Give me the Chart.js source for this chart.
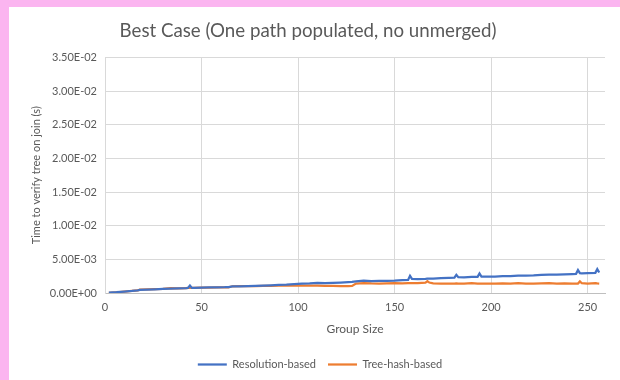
<!DOCTYPE html>
<html>
<head>
<meta charset="utf-8">
<script src="https://cdn.jsdelivr.net/npm/chart.js@4.4.1/dist/chart.umd.min.js"></script>
<style>
  html, body { margin: 0; padding: 0; }
  body { width: 620px; height: 380px; background: #fbb5f0; position: relative; overflow: hidden; }
  #panel { position: absolute; left: 9px; top: 7px; width: 611px; height: 373px; background: #fff; }
</style>
</head>
<body>
<div id="panel"><canvas id="chart1"></canvas></div>
<script>
var groupSizes = [
  2, 6, 10, 14, 17, 18, 22, 26, 30, 34,
  38, 42, 43, 44, 45, 46, 50, 54, 58, 62,
  64, 66, 70, 74, 78, 82, 86, 90, 94, 98,
  102, 106, 110, 114, 118, 122, 126, 128, 130, 134,
  138, 142, 146, 150, 154, 157, 158, 159, 162, 166,
  167, 168, 170, 174, 178, 181, 182, 183, 186, 190,
  193, 194, 195, 198, 202, 206, 210, 214, 218, 222,
  226, 230, 234, 238, 242, 244, 245, 246, 247, 250,
  254, 255, 256
];

var resolutionBased = [
  0.00005, 0.00012, 0.00022, 0.00030, 0.00038, 0.00045, 0.00050, 0.00055, 0.00060, 0.00066,
  0.00068, 0.00072, 0.00075, 0.00110, 0.00076, 0.00076, 0.00080, 0.00082, 0.00085, 0.00086,
  0.00088, 0.00098, 0.00100, 0.00103, 0.00106, 0.00110, 0.00115, 0.00122, 0.00125, 0.00132,
  0.00138, 0.00142, 0.00150, 0.00148, 0.00152, 0.00156, 0.00162, 0.00165, 0.00172, 0.00185,
  0.00178, 0.00180, 0.00182, 0.00185, 0.00192, 0.00195, 0.00255, 0.00210, 0.00208, 0.00210,
  0.00212, 0.00212, 0.00215, 0.00220, 0.00225, 0.00228, 0.00270, 0.00235, 0.00232, 0.00238,
  0.00240, 0.00290, 0.00245, 0.00245, 0.00245, 0.00250, 0.00252, 0.00258, 0.00260, 0.00262,
  0.00268, 0.00272, 0.00272, 0.00278, 0.00282, 0.00285, 0.00340, 0.00295, 0.00292, 0.00295,
  0.00300, 0.00355, 0.00305
];

var treeHashBased = [
  0.00002, 0.00010, 0.00020, 0.00030, 0.00038, 0.00052, 0.00055, 0.00058, 0.00062, 0.00072,
  0.00070, 0.00074, 0.00075, 0.00076, 0.00076, 0.00078, 0.00080, 0.00080, 0.00082, 0.00084,
  0.00085, 0.00100, 0.00102, 0.00103, 0.00104, 0.00105, 0.00106, 0.00108, 0.00108, 0.00110,
  0.00110, 0.00108, 0.00108, 0.00106, 0.00105, 0.00102, 0.00103, 0.00105, 0.00140, 0.00148,
  0.00142, 0.00140, 0.00142, 0.00145, 0.00144, 0.00145, 0.00145, 0.00145, 0.00146, 0.00155,
  0.00175, 0.00155, 0.00142, 0.00140, 0.00140, 0.00140, 0.00142, 0.00140, 0.00140, 0.00145,
  0.00140, 0.00140, 0.00140, 0.00140, 0.00140, 0.00142, 0.00140, 0.00145, 0.00140, 0.00140,
  0.00142, 0.00145, 0.00140, 0.00142, 0.00140, 0.00140, 0.00140, 0.00172, 0.00145, 0.00140,
  0.00145, 0.00142, 0.00140
];

var xTicks = [0, 50, 100, 150, 200, 250];
var yTickLabels = ['0.00E+00', '5.00E-03', '1.00E-02', '1.50E-02', '2.00E-02', '2.50E-02', '3.00E-02', '3.50E-02'];

var blue = '#4472c4';
var orange = '#ed7d31';
var textGrey = '#595959';
var gridGrey = '#d9d9d9';
var fontName = 'Lato';

function toPoints(values) {
  return groupSizes.map(function (g, i) { return { x: g, y: values[i] }; });
}

// legend sits a bit right of centre in the original
var nudgeLegend = {
  id: 'nudgeLegend',
  afterLayout: function (chart) {
    chart.legend.left += 12;
    chart.legend.right += 12;
  }
};

chart1Ctx = document.querySelector('canvas#chart1').getContext('2d');

chart1 = new Chart(chart1Ctx, {
  type: 'line',
  data: {
    datasets: [{
      label: 'Resolution-based',
      data: toPoints(resolutionBased),
      borderColor: blue,
      backgroundColor: blue,
      borderWidth: 2.25,
      pointRadius: 0,
      tension: 0
    },
    {
      label: 'Tree-hash-based',
      data: toPoints(treeHashBased),
      borderColor: orange,
      backgroundColor: orange,
      borderWidth: 2.25,
      pointRadius: 0,
      tension: 0
    }]
  },
  options: {
    responsive: true,
    maintainAspectRatio: false,
    animation: false,
    layout: { padding: { left: 2, right: 15, top: 0, bottom: 0 } },
    plugins: {
      title: {
        display: true,
        text: 'Best Case (One path populated, no unmerged)',
        color: textGrey,
        font: { family: fontName, size: 18.7, weight: 'normal' },
        padding: { top: 13, bottom: 15 }
      },
      legend: {
        position: 'bottom',
        labels: {
          usePointStyle: true,
          pointStyle: 'line',
          pointStyleWidth: 29,
          color: textGrey,
          font: { family: fontName, size: 11 },
          padding: 12
        }
      },
      tooltip: { enabled: false }
    },
    scales: {
      x: {
        type: 'linear',
        min: 0,
        max: 259,
        afterBuildTicks: function (scale) {
          scale.ticks = xTicks.map(function (v) { return { value: v }; });
        },
        afterFit: function (scale) { scale.height = 54; },
        grid: { color: gridGrey, drawTicks: false },
        border: { color: '#bfbfbf' },
        ticks: { color: textGrey, font: { family: fontName, size: 11 }, padding: 8 },
        title: {
          display: true,
          text: 'Group Size',
          color: textGrey,
          font: { family: fontName, size: 12 },
          padding: { top: 0, bottom: 11 }
        }
      },
      y: {
        min: 0,
        max: 0.035,
        afterFit: function (scale) { scale.width = 94; },
        grid: { color: gridGrey, drawTicks: false },
        border: { color: gridGrey },
        ticks: {
          stepSize: 0.005,
          color: textGrey,
          font: { family: fontName, size: 11 },
          padding: 8,
          callback: function (value, index) { return yTickLabels[index]; }
        },
        title: {
          display: true,
          text: 'Time to verify tree on join (s)',
          color: textGrey,
          font: { family: fontName, size: 11 },
          padding: { top: 19, bottom: 0 }
        }
      }
    }
  },
  plugins: [nudgeLegend]
});
</script>
</body>
</html>
